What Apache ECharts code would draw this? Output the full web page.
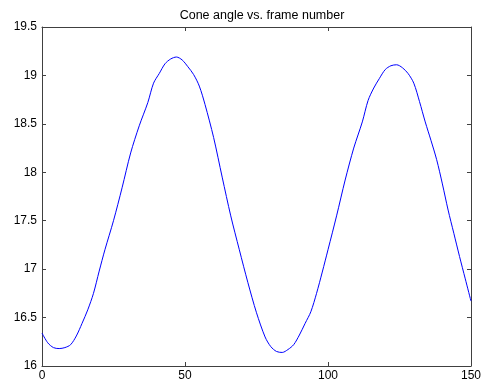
<!DOCTYPE html>
<html>
<head>
<meta charset="utf-8">
<script src="https://cdn.jsdelivr.net/npm/echarts@6/dist/echarts.min.js"></script>
<style>
  html, body { margin: 0; padding: 0; background: #fff; }
  #chart { width: 484px; height: 384px; }
</style>
</head>
<body>
<div id="chart"></div>
<script>
const frames = [0, 2, 4, 6, 8, 10, 12, 14, 16, 18, 20, 22, 25, 28, 31, 34, 37, 39, 41, 43, 45, 47, 49, 51, 53, 55, 57, 60, 63, 66, 69, 72, 75, 78, 80, 82, 84, 86, 88, 90, 92, 94, 96, 98, 100, 103, 106, 109, 112, 114, 116, 118, 120, 122, 124, 126, 128, 130, 132, 134, 136, 138, 140, 142, 144, 146, 148, 150]
const coneAngle = [16.34, 16.24, 16.19, 16.18, 16.19, 16.22, 16.31, 16.44, 16.58, 16.75, 16.98, 17.2, 17.5, 17.84, 18.2, 18.48, 18.72, 18.92, 19.02, 19.12, 19.17, 19.19, 19.16, 19.09, 19.01, 18.89, 18.7, 18.36, 17.95, 17.55, 17.2, 16.86, 16.55, 16.3, 16.2, 16.15, 16.14, 16.17, 16.22, 16.32, 16.44, 16.56, 16.75, 16.97, 17.2, 17.55, 17.92, 18.25, 18.52, 18.74, 18.87, 18.97, 19.06, 19.1, 19.11, 19.08, 19.02, 18.92, 18.73, 18.52, 18.33, 18.13, 17.88, 17.61, 17.37, 17.13, 16.9, 16.67]
const xTicks = [0, 50, 100, 150]
const yTicks = [16, 16.5, 17, 17.5, 18, 18.5, 19, 19.5]

const axisColor = '#404040'
const font = 'Liberation Sans, Arial, sans-serif'

const chart = echarts.init(document.getElementById('chart'))

const xBase = {
  type: 'value',
  min: xTicks[0],
  max: xTicks[xTicks.length - 1],
  interval: 50,
  splitLine: { show: false },
  axisLine: { show: true, lineStyle: { color: axisColor, width: 1 } },
  axisTick: { show: true, inside: true, length: 4, lineStyle: { color: axisColor } }
}

const yBase = {
  type: 'value',
  min: yTicks[0],
  max: yTicks[yTicks.length - 1],
  interval: 0.5,
  splitLine: { show: false },
  axisLine: { show: true, onZero: false, lineStyle: { color: axisColor, width: 1 } },
  axisTick: { show: true, inside: true, length: 4, lineStyle: { color: axisColor } }
}

chart.setOption({
  animation: false,
  backgroundColor: '#fff',
  title: {
    text: 'Cone angle vs. frame number',
    left: 257,
    textAlign: 'center',
    top: 4,
    textStyle: { color: '#000', fontSize: 12.5, fontWeight: 'normal', fontFamily: font }
  },
  grid: {
    left: 42,
    right: 12,
    top: 27,
    bottom: 18
  },
  xAxis: [
    {
      ...xBase,
      position: 'bottom',
      axisLabel: { color: '#000', fontSize: 12, fontFamily: font, margin: 4 }
    },
    {
      ...xBase,
      position: 'top',
      axisLabel: { show: false }
    }
  ],
  yAxis: [
    {
      ...yBase,
      position: 'left',
      axisLabel: { color: '#000', fontSize: 12, fontFamily: font, margin: 5 }
    },
    {
      ...yBase,
      position: 'right',
      axisLabel: { show: false }
    }
  ],
  series: [
    {
      type: 'line',
      data: frames.map((f, i) => [f, coneAngle[i]]),
      smooth: 0.3,
      showSymbol: false,
      lineStyle: { color: '#0000ff', width: 1 },
      itemStyle: { color: '#0000ff' }
    }
  ]
})
</script>
</body>
</html>
